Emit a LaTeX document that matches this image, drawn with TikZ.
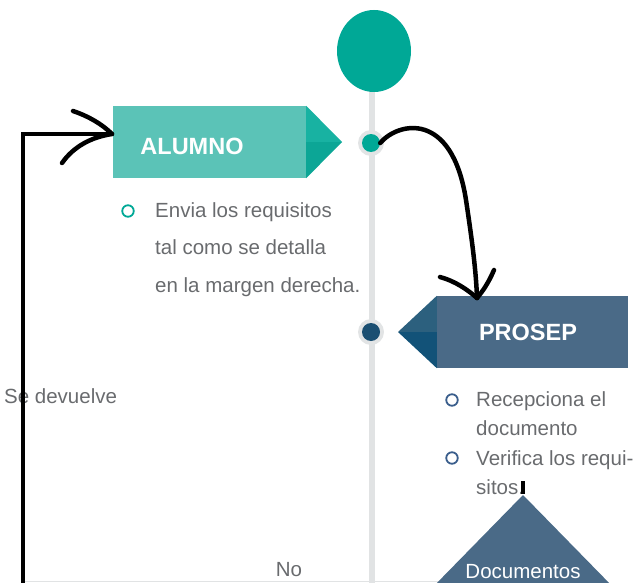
\documentclass[tikz,border=0pt]{standalone}
\usepackage{fontspec}
\setmainfont{Liberation Sans}
\usetikzlibrary{shapes.geometric}
\definecolor{tealc}{RGB}{0,168,150}
\definecolor{alumnofill}{RGB}{91,195,183}
\definecolor{alutop}{RGB}{24,178,162}
\definecolor{alubot}{RGB}{12,166,150}
\definecolor{prosepfill}{RGB}{74,106,135}
\definecolor{protop}{RGB}{44,96,126}
\definecolor{probot}{RGB}{18,82,120}
\definecolor{darkdot}{RGB}{27,79,114}
\definecolor{halo}{RGB}{226,228,229}
\definecolor{linegray}{RGB}{225,227,228}
\definecolor{txtgray}{RGB}{105,107,110}
\definecolor{bulletblue}{RGB}{58,94,140}
\begin{document}
\begin{tikzpicture}[x=1pt,y=-1pt,
  txt/.style={text=txtgray, font=\fontsize{20.5}{24}\selectfont, inner sep=0, anchor=base west},
  bannertxt/.style={text=white, font=\fontsize{23.5}{28}\selectfont\bfseries, inner sep=0, anchor=base},
  banner/.style={minimum width=#1, minimum height=72, inner sep=0, draw=none},
  halodot/.style={circle, fill=halo, minimum size=26, inner sep=0},
  cdot/.style={circle, minimum size=18, inner sep=0},
  bullet/.style={circle, draw=#1, line width=1.8, minimum size=11.5, inner sep=0},
  blackline/.style={line width=4.5, black, line cap=round, line join=round}]
\useasboundingbox (0,0) rectangle (634,583);
\clip (0,0) rectangle (634,583);
% timeline
\draw[line width=6, linegray] (372,90) -- (372,590);
\draw[line width=1.2, linegray] (22,581.5) -- (440,581.5);
\node[ellipse, fill=tealc, minimum width=74, minimum height=82, inner sep=0] (start) at (374,51) {};
% ALUMNO banner
\node[banner=193, fill=alumnofill] (alumno) at (209.5,142) {};
\fill[alutop] (alumno.north east) -- (342,142) -- (alumno.east) -- cycle;
\fill[alubot] (alumno.east) -- (342,142) -- (alumno.south east) -- cycle;
\node[bannertxt] (alumnotxt) at (192,154.5) {ALUMNO};
% PROSEP banner
\node[banner=191, fill=prosepfill] (prosep) at (532.5,332) {};
\fill[protop] (prosep.north west) -- (398,332) -- (prosep.west) -- cycle;
\fill[probot] (prosep.west) -- (398,332) -- (prosep.south west) -- cycle;
\node[bannertxt] (proseptxt) at (528,340.5) {PROSEP};
% dots
\node[halodot] (h1) at (371,143) {};
\node[cdot, fill=tealc] (d1) at (371,143) {};
\node[halodot] (h2) at (371,332) {};
\node[cdot, fill=darkdot] (d2) at (371,332) {};
% ALUMNO list
\node[bullet=tealc] (b1) at (128,211) {};
\node[txt] (a1) at (155,217.5) {Envia los requisitos};
\node[txt] (a2) at (155,254.5) {tal como se detalla};
\node[txt] (a3) at (155,292.5) {en la margen derecha.};
% PROSEP list
\node[bullet=bulletblue] (b2) at (452,400) {};
\node[bullet=bulletblue] (b3) at (452,458) {};
\node[txt] (p1) at (476,406.5) {Recepciona el};
\node[txt] (p2) at (476,435.5) {documento};
\node[txt] (p3) at (476,465) {Verifica los requi-};
\node[txt] (p4) at (476,494) {sitos.};
% decision
\fill[prosepfill] (523,495) -- (615,589) -- (431,589) -- cycle;
\fill[black] (521,481) rectangle (525,494);
\node[text=white, font=\fontsize{20.5}{24}\selectfont, inner sep=0, anchor=base] (doc) at (523,578) {Documentos};
% labels
\node[txt] (sed) at (4,403) {Se devuelve};
\node[txt, anchor=base] (no) at (289,576) {No};
% curved arrow ALUMNO dot -> PROSEP
\coordinate (ptip) at (477,298);
\draw[blackline] (d1.east) .. controls (398,122) and (452,110) .. (466,200) .. controls (472,240) and (476,270) .. (ptip);
\draw[blackline] (440,277) .. controls (455,281) and (468,290) .. (ptip);
\draw[blackline] (494,270) .. controls (488,284) and (482,292) .. (ptip);
% return arrow
\coordinate (atip) at (112,134);
\coordinate (abot) at (23,590);
\draw[line width=4.5, black] (abot) |- (atip);
\draw[blackline] (73,111) .. controls (88,116) and (102,124) .. (atip);
\draw[blackline] (62,163) .. controls (74,146) and (92,137) .. (atip);
\end{tikzpicture}
\end{document}
